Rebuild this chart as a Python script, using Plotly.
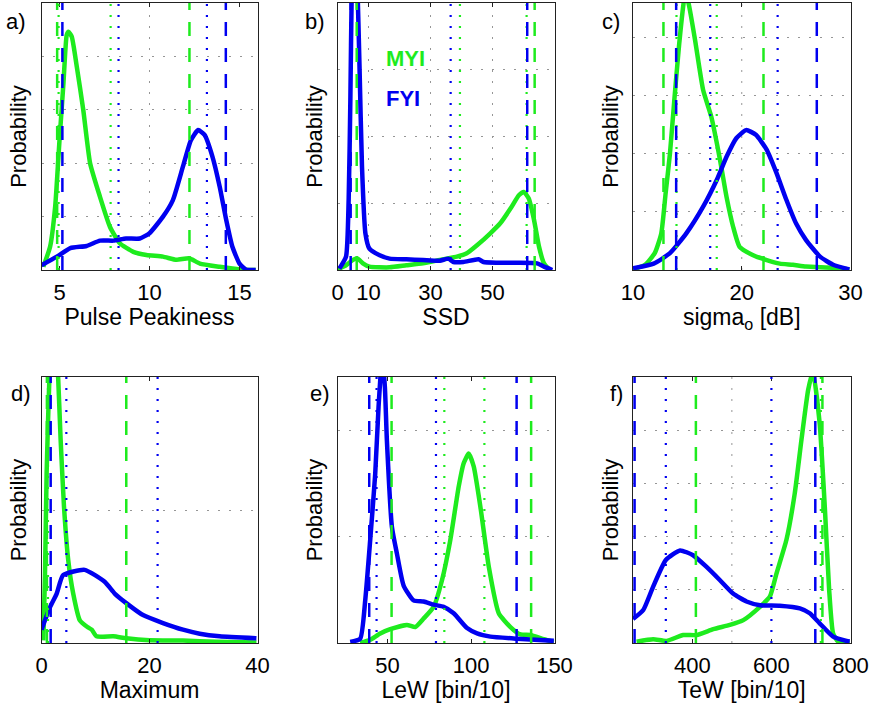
import plotly.graph_objects as go

W, H = 875, 706
FONT = "Liberation Sans, Arial, Helvetica, sans-serif"
GREEN = "rgb(30,235,30)"
BLUE = "rgb(0,0,240)"
GRID = "rgb(150,150,150)"
GRIDDASH = "2px,9px"

# ---------------- data (probability, arbitrary units: 1 unit = one grid step) ----------------
# a) Pulse Peakiness
a_myi_x = [4.1, 4.48, 4.76, 5.0, 5.22, 5.4, 5.5, 5.68, 5.96, 6.32, 6.7, 7.25, 7.8, 8.35, 9.1, 9.83, 10.75, 11.5, 12.2, 12.8, 13.9, 15.0, 15.9]
a_myi_y = [0.06, 0.44, 1.19, 2.43, 3.5, 4.4, 4.46, 4.37, 3.81, 3.0, 2.0, 1.37, 0.81, 0.5, 0.34, 0.28, 0.25, 0.19, 0.22, 0.12, 0.06, 0.01, 0.0]
a_fyi_x = [4.0, 4.85, 5.6, 6.5, 7.25, 8.0, 8.7, 9.46, 10.0, 10.75, 11.3, 11.86, 12.3, 12.7, 13.06, 13.5, 13.9, 14.26, 14.6, 15.0, 15.36, 15.9]
a_fyi_y = [0.09, 0.25, 0.41, 0.45, 0.55, 0.55, 0.59, 0.59, 0.69, 1.0, 1.31, 1.94, 2.43, 2.62, 2.53, 2.12, 1.56, 0.94, 0.44, 0.12, 0.01, 0.0]

# b) SSD
b_myi_x = [0.0, 2.75, 4.9, 6.5, 8.2, 10.3, 16.8, 22.2, 27.6, 33.0, 38.5, 41.7, 45.0, 49.3, 52.5, 55.8, 58.5, 60.1, 61.7, 63.4, 65.0, 66.6, 68.2]
b_myi_y = [0.01, 0.07, 0.15, 0.17, 0.1, 0.05, 0.04, 0.07, 0.1, 0.15, 0.2, 0.25, 0.37, 0.55, 0.7, 0.92, 1.12, 1.17, 1.07, 0.75, 0.35, 0.1, 0.01]
b_fyi_x = [0.6, 2.75, 3.6, 4.15, 4.6, 5.4, 6.4, 7.1, 7.9, 9.0, 10.3, 13.6, 16.8, 22.2, 27.6, 33.0, 35.8, 37.4, 40.6, 45.5, 47.1, 51.5, 58.0, 64.4, 66.6, 69.3]
b_fyi_y = [0.02, 0.2, 1.05, 2.55, 4.2, 5.4, 4.3, 3.05, 1.55, 0.55, 0.32, 0.22, 0.17, 0.16, 0.15, 0.14, 0.17, 0.12, 0.12, 0.16, 0.12, 0.11, 0.11, 0.1, 0.05, 0.0]

# c) sigma_o
c_myi_x = [10.0, 11.1, 12.0, 12.6, 13.0, 13.4, 13.8, 14.25, 14.8, 15.1, 15.7, 16.45, 17.2, 18.0, 18.6, 19.2, 19.8, 21.0, 22.3, 23.5, 24.7, 25.9, 28.4, 29.9]
c_myi_y = [0.01, 0.09, 0.29, 0.63, 1.32, 2.01, 2.93, 3.9, 4.75, 4.6, 3.97, 3.1, 2.64, 1.9, 1.26, 0.75, 0.4, 0.26, 0.17, 0.11, 0.09, 0.06, 0.04, 0.01]
c_fyi_x = [10.0, 11.9, 13.4, 14.9, 16.45, 17.7, 18.6, 19.5, 20.4, 21.3, 22.3, 23.2, 24.1, 25.0, 25.9, 27.2, 28.4, 29.9]
c_fyi_y = [0.03, 0.11, 0.29, 0.63, 1.09, 1.55, 1.95, 2.27, 2.41, 2.33, 2.07, 1.67, 1.21, 0.8, 0.52, 0.23, 0.09, 0.01]

# d) Maximum
d_myi_x = [0.34, 0.65, 0.95, 1.45, 2.2, 3.1, 3.54, 4.16, 4.96, 5.88, 7.1, 8.5, 9.3, 10.2, 13.3, 15.7, 20.0, 26.2, 32.4, 39.8]
d_myi_y = [0.02, 0.52, 1.28, 1.98, 2.6, 1.98, 1.53, 1.03, 0.62, 0.37, 0.17, 0.12, 0.1, 0.05, 0.05, 0.035, 0.02, 0.018, 0.01, 0.003]
d_fyi_x = [0.0, 1.57, 2.8, 4.0, 8.0, 11.7, 13.6, 15.7, 18.8, 22.5, 26.2, 29.3, 33.0, 39.8]
d_fyi_y = [0.1, 0.27, 0.37, 0.51, 0.55, 0.46, 0.37, 0.3, 0.21, 0.15, 0.1, 0.07, 0.05, 0.035]

# e) LeW
e_myi_x = [33.6, 39.6, 45.6, 51.6, 61.6, 66.6, 71.6, 77.6, 82.6, 87.6, 92.6, 95.6, 98.6, 101.6, 105.6, 110.6, 116.6, 123.6, 129.6, 135.6, 143.6, 149.6]
e_myi_y = [0.0, 0.03, 0.09, 0.13, 0.17, 0.15, 0.23, 0.34, 0.59, 0.97, 1.47, 1.69, 1.78, 1.66, 1.28, 0.72, 0.28, 0.15, 0.08, 0.075, 0.035, 0.01]
e_fyi_x = [27.6, 33.6, 36.6, 39.6, 42.6, 44.6, 46.8, 48.4, 49.6, 52.6, 55.6, 59.6, 65.6, 71.6, 77.6, 83.6, 89.6, 97.6, 103.6, 111.6, 127.6, 149.6]
e_fyi_y = [0.01, 0.04, 0.4, 0.97, 1.59, 2.22, 2.7, 2.4, 1.9, 1.09, 0.84, 0.54, 0.4, 0.39, 0.36, 0.34, 0.28, 0.14, 0.09, 0.06, 0.04, 0.02]

# f) TeW
f_myi_x = [259, 301, 335, 377, 411, 453, 495, 529, 571, 596, 613, 638, 659, 676, 693, 705, 722, 735, 746, 756, 769, 798]
f_myi_y = [0.025, 0.07, 0.04, 0.15, 0.15, 0.26, 0.34, 0.43, 0.68, 0.87, 1.31, 1.94, 2.81, 3.82, 4.76, 5.1, 4.13, 2.56, 1.0, 0.18, 0.025, 0.0]
f_fyi_x = [250, 276, 301, 333, 369, 402, 436, 470, 503, 537, 571, 621, 672, 697, 722, 756, 790, 798]
f_fyi_y = [0.45, 0.62, 1.06, 1.56, 1.74, 1.65, 1.43, 1.18, 0.93, 0.78, 0.71, 0.7, 0.65, 0.56, 0.37, 0.12, 0.04, 0.03]

# statistic markers (vertical lines): (value, class, style)
a_lines = [(4.87, "MYI", "dash"), (12.22, "MYI", "dash"), (4.95, "MYI", "dot"), (7.84, "MYI", "dot"),
           (5.16, "FYI", "dash"), (14.24, "FYI", "dash"), (8.28, "FYI", "dot"), (13.19, "FYI", "dot")]
b_lines = [(6.2, "MYI", "dash"), (63.6, "MYI", "dash"), (39.5, "MYI", "dot"), (61.0, "MYI", "dot"),
           (4.25, "FYI", "dash"), (61.2, "FYI", "dash"), (36.5, "FYI", "dot")]
c_lines = [(12.8, "MYI", "dash"), (22.0, "MYI", "dash"), (14.0, "MYI", "dot"), (17.7, "MYI", "dot"),
           (13.97, "FYI", "dash"), (26.9, "FYI", "dash"), (17.1, "FYI", "dot"), (23.3, "FYI", "dot")]
d_lines = [(1.0, "MYI", "dash"), (15.7, "MYI", "dash"), (1.2, "MYI", "dot"),
           (1.7, "FYI", "dash"), (4.6, "FYI", "dot"), (21.5, "FYI", "dot")]
e_lines = [(52.4, "MYI", "dash"), (136.0, "MYI", "dash"), (84.0, "MYI", "dot"), (108.0, "MYI", "dot"),
           (39.0, "FYI", "dash"), (127.3, "FYI", "dash"), (43.4, "FYI", "dot"), (79.0, "FYI", "dot")]
f_lines = [(409, "MYI", "dash"), (729, "MYI", "dash"), (725, "MYI", "dot"),
           (254, "FYI", "dash"), (711, "FYI", "dash"), (333, "FYI", "dot"), (600, "FYI", "dot")]

panels = [
    dict(lab="a)", xt="Pulse Peakiness", xr=[4, 16], tv=[5, 10, 15], gx=[10], ytop=5.0,
         myi=(a_myi_x, a_myi_y), fyi=(a_fyi_x, a_fyi_y), lines=a_lines),
    dict(lab="b)", xt="SSD", xr=[0, 70], tv=[0, 10, 30, 50], gx=[10, 30, 50], ytop=4.0,
         myi=(b_myi_x, b_myi_y), fyi=(b_fyi_x, b_fyi_y), lines=b_lines),
    dict(lab="c)", xt="sigma<sub>o</sub> [dB]", xr=[10, 30], tv=[10, 20, 30], gx=[20], ytop=4.6,
         myi=(c_myi_x, c_myi_y), fyi=(c_fyi_x, c_fyi_y), lines=c_lines),
    dict(lab="d)", xt="Maximum", xr=[0, 40], tv=[0, 20, 40], gx=[], ytop=2.0,
         myi=(d_myi_x, d_myi_y), fyi=(d_fyi_x, d_fyi_y), lines=d_lines),
    dict(lab="e)", xt="LeW [bin/10]", xr=[20, 150], tv=[50, 100, 150], gx=[], ytop=2.5,
         myi=(e_myi_x, e_myi_y), fyi=(e_fyi_x, e_fyi_y), lines=e_lines),
    dict(lab="f)", xt="TeW [bin/10]", xr=[250, 800], tv=[400, 600, 800], gx=[500], ytop=5.0,
         myi=(f_myi_x, f_myi_y), fyi=(f_fyi_x, f_fyi_y), lines=f_lines),
]

# layout geometry (pixels)
cols_px = [(41.5, 257.5), (337.5, 554.5), (633, 850.5)]
rows_px = [(3, 270), (377, 643)]
lab_right = [28, 327, 622, 33, 332, 625]

fig = go.Figure()
layout = dict(width=W, height=H, margin=dict(l=0, r=0, t=0, b=0),
              paper_bgcolor="white", plot_bgcolor="white", showlegend=False,
              font=dict(family=FONT, size=22, color="black"))
annotations = []
shapes = []

for i, p in enumerate(panels):
    r, c = divmod(i, 3)
    n = i + 1
    xs = "" if n == 1 else str(n)
    x0, x1 = cols_px[c]
    yt, yb = rows_px[r]
    xd = [x0 / W, x1 / W]
    yd = [1 - yb / H, 1 - yt / H]
    layout["xaxis" + xs] = dict(
        domain=xd, anchor="y" + xs, range=p["xr"], tickvals=p["tv"],
        ticks="inside", ticklen=4, tickcolor="#222", showline=True, linecolor="#222",
        linewidth=1.2, mirror="ticks", showgrid=False, zeroline=False,
        tickfont=dict(size=22), ticklabelstandoff=2,
        title=dict(text=p["xt"], font=dict(size=23), standoff=4), automargin=False)
    layout["yaxis" + xs] = dict(
        domain=yd, anchor="x" + xs, range=[0, p["ytop"]], dtick=1, showticklabels=False,
        ticks="", showline=True, linecolor="#222", linewidth=1.2, mirror=True,
        showgrid=True, gridcolor=GRID, griddash=GRIDDASH, gridwidth=1, zeroline=False,
        title=dict(text="Probability", font=dict(size=22), standoff=7), automargin=False)
    xa, ya = "x" + xs, "y" + xs
    # vertical grid lines
    for g in p["gx"]:
        shapes.append(dict(type="line", xref=xa, yref=ya + " domain", x0=g, x1=g, y0=0, y1=1,
                           layer="below", line=dict(color=GRID, width=1, dash=GRIDDASH)))
    # curves
    fig.add_trace(go.Scatter(x=p["myi"][0], y=p["myi"][1], mode="lines", xaxis=xa, yaxis=ya,
                             line=dict(color=GREEN, width=4.5, shape="spline", smoothing=0.5),
                             name="MYI", cliponaxis=True))
    fig.add_trace(go.Scatter(x=p["fyi"][0], y=p["fyi"][1], mode="lines", xaxis=xa, yaxis=ya,
                             line=dict(color=BLUE, width=4.5, shape="spline", smoothing=0.5),
                             name="FYI", cliponaxis=True))
    # statistic lines
    for v, cls, sty in p["lines"]:
        col = GREEN if cls == "MYI" else BLUE
        dash = "14px,12px" if sty == "dash" else "2px,9px"
        wid = 2.5 if sty == "dash" else 2.2
        shapes.append(dict(type="line", xref=xa, yref=ya + " domain", x0=v, x1=v, y0=0, y1=1,
                           layer="above", line=dict(color=col, width=wid, dash=dash)))
    # panel label
    ly = (yt + 19) if r == 0 else (yt + 16)
    annotations.append(dict(text=p["lab"], xref="paper", yref="paper", x=lab_right[i] / W,
                            y=1 - ly / H, xanchor="right", yanchor="middle", showarrow=False,
                            font=dict(size=22, color="black")))

# legend text in panel b
annotations.append(dict(text="<b>MYI</b>", xref="paper", yref="paper", x=384 / W, y=1 - 58 / H,
                        xanchor="left", yanchor="middle", showarrow=False,
                        font=dict(size=22, color=GREEN)))
annotations.append(dict(text="<b>FYI</b>", xref="paper", yref="paper", x=384 / W, y=1 - 98 / H,
                        xanchor="left", yanchor="middle", showarrow=False,
                        font=dict(size=22, color=BLUE)))

layout["annotations"] = annotations
layout["shapes"] = shapes
fig.update_layout(**layout)
fig.write_html("out.html", config={"displayModeBar": False},
               post_script="document.body.style.margin='0px';document.body.style.overflow='hidden';")
